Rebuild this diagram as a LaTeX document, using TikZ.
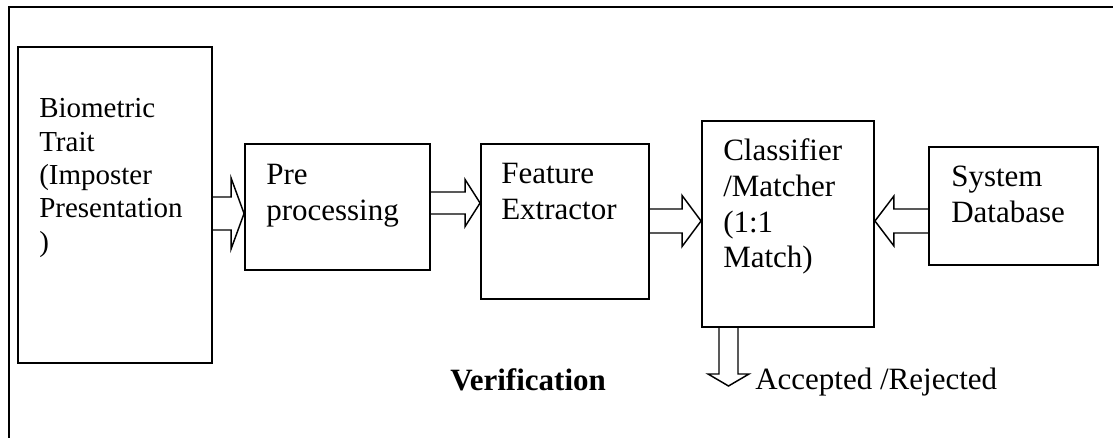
\documentclass[tikz,border=0pt]{standalone}
\usepackage{fontspec}
\setmainfont{Liberation Serif}
\usetikzlibrary{calc,fit}

% horizontal hollow arrow: from, to, shaft half-width, head half-width, signed head length
\newcommand\harrow[5]{%
  \draw[arrowline] ($(#1)+(0,#3)$) -- ($(#2)-(#5,0)+(0,#3)$) -- ($(#2)-(#5,0)+(0,#4)$) -- (#2)
    -- ($(#2)-(#5,0)-(0,#4)$) -- ($(#2)-(#5,0)-(0,#3)$) -- ($(#1)-(0,#3)$);}
% vertical hollow arrow (pointing down)
\newcommand\varrow[5]{%
  \draw[arrowline] ($(#1)+(#3,0)$) -- ($(#2)-(0,#5)+(#3,0)$) -- ($(#2)-(0,#5)+(#4,0)$) -- (#2)
    -- ($(#2)-(0,#5)-(#4,0)$) -- ($(#2)-(0,#5)-(#3,0)$) -- ($(#1)-(#3,0)$);}

\tikzset{
  box/.style={draw, line width=1.4pt, inner sep=0pt},
  arrowline/.style={line width=1.1pt, line join=miter},
  txt/.style={inner sep=0pt, anchor=base west,
    font=\fontsize{23.25pt}{26.7pt}\selectfont},
  smalltxt/.style={inner sep=0pt, anchor=base west,
    font=\fontsize{21.75pt}{25pt}\selectfont},
}

\begin{document}
\begin{tikzpicture}[x=0.75pt, y=-0.75pt]
\useasboundingbox (0,0) rectangle (1113,438);

% outer frame, running off the right and bottom edges
\begin{scope}
  \clip (0,0) rectangle (1113,438);
  \draw[line width=1.4pt] (9,7) rectangle (1140,470);
\end{scope}

% blocks
\node[box, fit={(18,47) (212,363)}] (b1) {};
\node[box, fit={(245,144) (430,270)}] (b2) {};
\node[box, fit={(481,144) (649,299)}] (b3) {};
\node[box, fit={(702,121) (874,327)}] (b4) {};
\node[box, fit={(929,147) (1098,265)}] (b5) {};

% block texts
\node[smalltxt] (t1) at (39,118) {\parbox[t]{200pt}{Biometric\\Trait\\(Imposter\\Presentation\\)}};
\node[txt] (t2) at (266,185) {\parbox[t]{200pt}{Pre\\processing}};
\node[txt] (t3) at (501,184) {\parbox[t]{200pt}{Feature\\Extractor}};
\node[txt] (t4) at (723,161) {\parbox[t]{200pt}{Classifier\\/Matcher\\(1:1\\Match)}};
\node[txt] (t5) at (951,187) {\parbox[t]{200pt}{System\\Database}};

% arrow end points on the block edges
\coordinate (a1s) at (b1.east |- 0,213.5);
\coordinate (a1e) at (b2.west |- a1s);
\coordinate (a2s) at (b2.east |- 0,203);
\coordinate (a2e) at (b3.west |- a2s);
\coordinate (a3s) at (b3.east |- 0,221);
\coordinate (a3e) at (b4.west |- a3s);
\coordinate (a4s) at (b5.west |- 0,221);
\coordinate (a4e) at (b4.east |- a4s);
\coordinate (a5s) at (b4.south -| 728.5,0);
\coordinate (a5e) at (728.5,386);

\harrow{a1s}{a1e}{16.5}{35.5}{13}
\harrow{a2s}{a2e}{11}{23.5}{15}
\harrow{a3s}{a3e}{12}{25.5}{19}
\harrow{a4s}{a4e}{12}{25}{-19}
\varrow{a5s}{a5e}{9.5}{20.5}{12}

% output labels
\node[txt] (ver) at (450,390) {\bfseries Verification};
\node[txt] (out) at (755,389) {Accepted /Rejected};
\end{tikzpicture}
\end{document}
